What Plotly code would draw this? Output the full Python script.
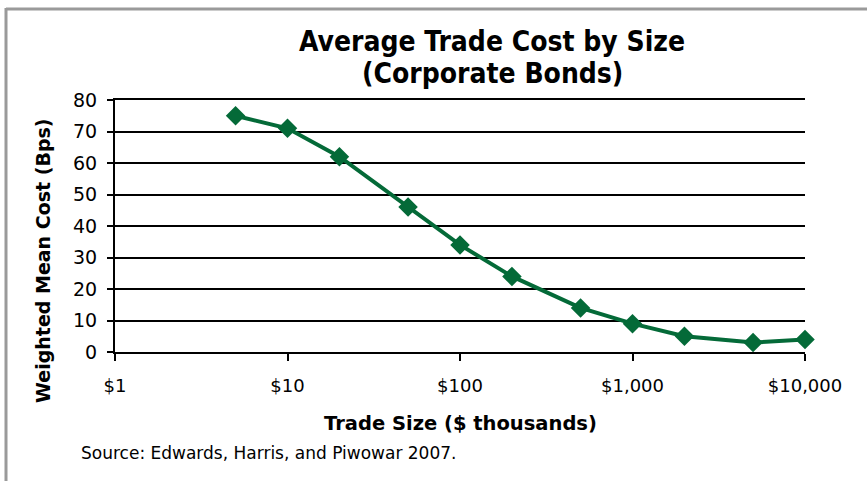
import plotly.graph_objects as go

trade_size = [5, 10, 20, 50, 100, 200, 500, 1000, 2000, 5000, 10000]
cost_bps = [75, 71, 62, 46, 34, 24, 14, 9, 5, 3, 4]
x_tickvals = [1, 10, 100, 1000, 10000]
x_ticktext = ["$1", "$10", "$100", "$1,000", "$10,000"]

W, H = 867, 481
L, R, T, B = 115, 805, 100, 352

def px_x(p):
    return (p - L) / (R - L)

def px_y(p):
    return (B - p) / (B - T)

fig = go.Figure()
fig.add_trace(go.Scatter(
    x=trade_size, y=cost_bps, mode="lines+markers",
    line=dict(color="#046A38", width=4),
    marker=dict(symbol="diamond", size=15, color="#046A38"),
    showlegend=False, cliponaxis=False,
))

title_font = dict(family="DejaVu Sans Condensed, Liberation Sans Narrow", size=28, color="#000")
fig.update_layout(
    width=W, height=H,
    margin=dict(l=L, r=W - R, t=T, b=H - B),
    paper_bgcolor="white", plot_bgcolor="white",
    xaxis=dict(
        type="log", range=[0, 4], tickvals=x_tickvals, ticktext=x_ticktext,
        showgrid=False, zeroline=False, showline=True, mirror=True,
        linecolor="black", linewidth=2,
        ticks="outside", ticklen=7, tickwidth=2, tickcolor="black",
        tickfont=dict(family="DejaVu Sans", size=18, color="#000"),
        ticklabelstandoff=9,
    ),
    yaxis=dict(
        range=[0, 80], dtick=10, showgrid=True, gridcolor="black", gridwidth=1.5,
        zeroline=False, showline=True, linecolor="black", linewidth=2,
        ticks="outside", ticklen=6, tickwidth=2, tickcolor="black",
        tickfont=dict(family="DejaVu Sans", size=19, color="#000"),
        ticklabelstandoff=6,
    ),
    shapes=[
        dict(type="line", xref="paper", yref="paper", x0=px_x(6), x1=px_x(W + 5),
             y0=px_y(9), y1=px_y(9), line=dict(color="#9a9a9a", width=3)),
        dict(type="line", xref="paper", yref="paper", x0=px_x(6), x1=px_x(6),
             y0=px_y(8), y1=px_y(H + 5), line=dict(color="#9a9a9a", width=3)),
    ],
    annotations=[
        dict(text="<b>Average Trade Cost by Size</b>",
             xref="paper", yref="paper", x=px_x(492), y=px_y(42),
             xanchor="center", yanchor="middle", showarrow=False, font=title_font),
        dict(text="<b>(Corporate Bonds)</b>",
             xref="paper", yref="paper", x=px_x(492), y=px_y(74),
             xanchor="center", yanchor="middle", showarrow=False, font=title_font),
        dict(text="<b>Weighted Mean Cost (Bps)</b>", textangle=-90,
             xref="paper", yref="paper", x=px_x(43), y=px_y(261),
             xanchor="center", yanchor="middle", showarrow=False,
             font=dict(family="DejaVu Sans", size=19, color="#000")),
        dict(text="<b>Trade Size ($ thousands)</b>",
             xref="paper", yref="paper", x=px_x(460), y=px_y(423),
             xanchor="center", yanchor="middle", showarrow=False,
             font=dict(family="DejaVu Sans", size=19.5, color="#000")),
        dict(text="Source: Edwards, Harris, and Piwowar 2007.",
             xref="paper", yref="paper", x=px_x(79), y=px_y(453),
             xanchor="left", yanchor="middle", showarrow=False,
             font=dict(family="DejaVu Sans", size=17, color="#000")),
    ],
)

fig.write_html("out.html")
